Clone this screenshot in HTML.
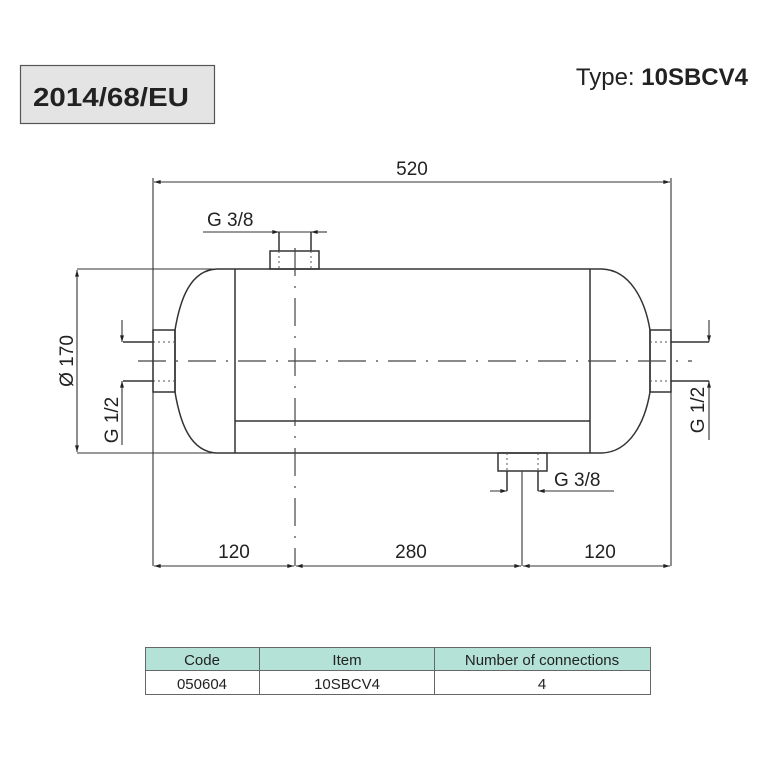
<!DOCTYPE html>
<html><head><meta charset="utf-8"><style>
html,body{margin:0;padding:0;background:#fff;}
svg{display:block;}
text{font-family:"Liberation Sans",Arial,sans-serif;fill:#222;}
</style></head><body>
<svg width="768" height="768" viewBox="0 0 768 768" xmlns="http://www.w3.org/2000/svg">
<defs>
<marker id="a" viewBox="0 0 10 6" refX="10" refY="3" markerWidth="8" markerHeight="4" orient="auto-start-reverse" markerUnits="userSpaceOnUse"><path d="M0,0 L10,3 L0,6z" fill="#222"/></marker>
</defs>
<!-- header -->
<rect x="20.5" y="65.5" width="194" height="58" fill="#e4e4e4" stroke="#555" stroke-width="1.2"/>
<text x="33" y="106" font-size="26" font-weight="bold" textLength="156" lengthAdjust="spacingAndGlyphs">2014/68/EU</text>
<text x="748" y="85" font-size="24" text-anchor="end">Type: <tspan font-weight="bold">10SBCV4</tspan></text>

<g stroke="#333" stroke-width="1.5" fill="none">
<path d="M217,269 L602,269 C630,270 645,300 650,330 L650,392 C645,422 630,452 602,453 L217,453 C190,452 180,422 175,392 L175,330 C180,300 190,270 217,269 Z"/>
<line x1="235" y1="269" x2="235" y2="453"/>
<line x1="590" y1="269" x2="590" y2="453"/>
<line x1="235" y1="421" x2="590" y2="421"/>
<rect x="153" y="330" width="22" height="62"/>
<line x1="123" y1="342" x2="153" y2="342"/>
<line x1="123" y1="381" x2="153" y2="381"/>
<rect x="650" y="330" width="21" height="62"/>
<line x1="671" y1="342" x2="709" y2="342"/>
<line x1="671" y1="381" x2="709" y2="381"/>
<rect x="270" y="251" width="49" height="18"/>
<line x1="279" y1="232" x2="279" y2="251"/>
<line x1="311" y1="232" x2="311" y2="251"/>
<rect x="498" y="453" width="49" height="18"/>
<line x1="507" y1="471" x2="507" y2="491"/>
<line x1="538" y1="471" x2="538" y2="491"/>
</g>
<g stroke="#555" stroke-width="1" stroke-dasharray="2,3">
<line x1="153" y1="342" x2="175" y2="342"/><line x1="153" y1="381" x2="175" y2="381"/>
<line x1="650" y1="342" x2="671" y2="342"/><line x1="650" y1="381" x2="671" y2="381"/>
<line x1="279" y1="251" x2="279" y2="269"/><line x1="311" y1="251" x2="311" y2="269"/>
<line x1="507" y1="453" x2="507" y2="471"/><line x1="538" y1="453" x2="538" y2="471"/>
</g>
<g stroke="#444" stroke-width="1.2" fill="none">
<line x1="128" y1="361" x2="692" y2="361" stroke-dasharray="28,10,2,10" stroke-dashoffset="-10"/>
<line x1="295" y1="238" x2="295" y2="566" stroke-dasharray="28,10,2,10" stroke-dashoffset="-10"/>
<line x1="522" y1="471" x2="522" y2="566"/>
</g>
<g stroke="#333" stroke-width="1.1" fill="none">
<line x1="153" y1="178" x2="153" y2="566"/>
<line x1="671" y1="178" x2="671" y2="566"/>
<line x1="154" y1="182" x2="670" y2="182" marker-start="url(#a)" marker-end="url(#a)"/>
<line x1="77" y1="269" x2="217" y2="269"/>
<line x1="77" y1="453" x2="217" y2="453"/>
<line x1="77" y1="270" x2="77" y2="452" marker-start="url(#a)" marker-end="url(#a)"/>
<line x1="154" y1="566" x2="294" y2="566" marker-start="url(#a)" marker-end="url(#a)"/>
<line x1="296" y1="566" x2="521" y2="566" marker-start="url(#a)" marker-end="url(#a)"/>
<line x1="523" y1="566" x2="670" y2="566" marker-start="url(#a)" marker-end="url(#a)"/>
<line x1="203" y1="232" x2="279" y2="232" marker-end="url(#a)"/>
<line x1="327" y1="232" x2="311" y2="232" marker-end="url(#a)"/>
<line x1="279" y1="232" x2="311" y2="232"/>
<line x1="490" y1="491" x2="507" y2="491" marker-end="url(#a)"/>
<line x1="614" y1="491" x2="538" y2="491" marker-end="url(#a)"/>
<line x1="122" y1="320" x2="122" y2="342" marker-end="url(#a)"/>
<line x1="122" y1="445" x2="122" y2="381" marker-end="url(#a)"/>
<line x1="709" y1="320" x2="709" y2="342" marker-end="url(#a)"/>
<line x1="709" y1="440" x2="709" y2="381" marker-end="url(#a)"/>
</g>
<g font-size="19">
<text x="412" y="175" text-anchor="middle">520</text>
<text x="234" y="558" text-anchor="middle">120</text>
<text x="411" y="558" text-anchor="middle">280</text>
<text x="600" y="558" text-anchor="middle">120</text>
<text x="207" y="226">G 3/8</text>
<text x="554" y="486">G 3/8</text>
<text transform="translate(73,361) rotate(-90)" text-anchor="middle">Ø 170</text>
<text transform="translate(118,420) rotate(-90)" text-anchor="middle">G 1/2</text>
<text transform="translate(704,410) rotate(-90)" text-anchor="middle">G 1/2</text>
</g>
<rect x="145.5" y="647.5" width="505" height="23" fill="#b4e2d6"/>
<g stroke="#666" stroke-width="1" fill="none">
<rect x="145.5" y="647.5" width="505" height="47"/>
<line x1="145.5" y1="670.5" x2="650.5" y2="670.5"/>
<line x1="259.5" y1="647.5" x2="259.5" y2="694.5"/>
<line x1="434.5" y1="647.5" x2="434.5" y2="694.5"/>
</g>
<g font-size="15" text-anchor="middle">
<text x="202" y="665">Code</text>
<text x="347" y="665">Item</text>
<text x="542" y="665">Number of connections</text>
<text x="202" y="689">050604</text>
<text x="347" y="689">10SBCV4</text>
<text x="542" y="689">4</text>
</g>
</svg>
</body></html>
